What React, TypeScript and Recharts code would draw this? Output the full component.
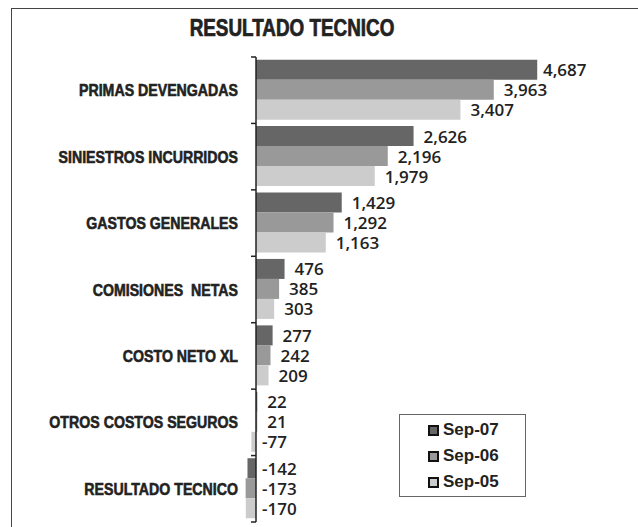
import { BarChart, Bar, XAxis, YAxis, ReferenceLine, Legend, LabelList } from 'recharts'

const categories = [
  'PRIMAS DEVENGADAS',
  'SINIESTROS INCURRIDOS',
  'GASTOS GENERALES',
  'COMISIONES  NETAS',
  'COSTO NETO XL',
  'OTROS COSTOS SEGUROS',
  'RESULTADO TECNICO',
]
const sep07 = [4687, 2626, 1429, 476, 277, 22, -142]
const sep06 = [3963, 2196, 1292, 385, 242, 21, -173]
const sep05 = [3407, 1979, 1163, 303, 209, -77, -170]

const series = [
  { key: 'sep07', name: 'Sep-07', color: '#666666' },
  { key: 'sep06', name: 'Sep-06', color: '#999999' },
  { key: 'sep05', name: 'Sep-05', color: '#cccccc' },
]

const data = categories.map((name, i) => ({
  name,
  sep07: sep07[i],
  sep06: sep06[i],
  sep05: sep05[i],
}))

// no narrow font installed: squeeze Liberation Sans Bold horizontally instead
const condensed = '"Liberation Sans", Arial, sans-serif'
const SQUEEZE = 0.82
const LABEL_MAX_X = 543

function CategoryTick(props: any) {
  const { x, y, payload } = props
  return (
    <text
      transform={`translate(${x},${y}) scale(${SQUEEZE},1)`}
      x={0}
      y={0}
      textAnchor="end"
      dominantBaseline="central"
      fontFamily={condensed}
      fontWeight="bold"
      fontSize={17.3}
      fill="#222"
      stroke="#222"
      strokeWidth={0.6}
      style={{ whiteSpace: 'pre' }}
    >
      {payload.value}
    </text>
  )
}

function ValueLabel(props: any) {
  const { x, y, width, height, value } = props
  const a = Number(x)
  const b = Number(x) + Number(width)
  let tx
  if (value >= 0) {
    tx = Math.min(Math.max(a, b) + 10, LABEL_MAX_X)
  } else {
    tx = Math.max(a, b) + 6
  }
  return (
    <text
      x={tx}
      y={Number(y) + Number(height) / 2}
      dominantBaseline="central"
      fontFamily='"Open Sans", sans-serif'
      fontWeight={600}
      fontSize={17}
      fill="#222"
    >
      {value.toLocaleString('en-US')}
    </text>
  )
}

// zero axis with tick marks on the category boundaries
function ZeroAxis(props: any) {
  const { x1, y1, y2 } = props
  const n = categories.length
  const step = (y2 - y1) / n
  const ticks = []
  for (let i = 0; i <= n; i++) {
    const ty = y1 + i * step
    ticks.push(<line key={i} x1={x1 - 5} x2={x1} y1={ty} y2={ty} stroke="#222" strokeWidth={1.5} />)
  }
  return (
    <g>
      <line x1={x1} x2={x1} y1={y1} y2={y2} stroke="#222" strokeWidth={1.5} />
      {ticks}
    </g>
  )
}

function LegendBox(props: any) {
  const payload = props.payload || []
  const items = series
    .map((s) => payload.find((p: any) => p.value === s.name))
    .filter(Boolean)
  return (
    <div
      style={{
        boxSizing: 'border-box',
        width: 127,
        height: 83,
        border: '1px solid #666',
        background: '#fff',
        padding: '2px 0 0 28px',
      }}
    >
      {items.map((p: any) => (
        <div key={p.value} style={{ display: 'flex', alignItems: 'center', height: 26 }}>
          <span
            style={{
              boxSizing: 'border-box',
              display: 'inline-block',
              width: 11,
              height: 11,
              border: '2px solid #111',
              background: p.color,
              marginRight: 4,
            }}
          />
          <span
            style={{
              fontFamily: '"Liberation Sans", Arial, sans-serif',
              fontWeight: 'bold',
              fontSize: 17,
              color: '#222',
            }}
          >
            {p.value}
          </span>
        </div>
      ))}
    </div>
  )
}

export default function App() {
  return (
    <div style={{ position: 'absolute', left: 0, top: 0, width: 638, height: 527, overflow: 'hidden', background: '#fff' }}>
      <div
        style={{
          position: 'absolute',
          left: 11,
          top: 8,
          width: 700,
          height: 600,
          borderTop: '1px solid #444',
          borderLeft: '1px solid #444',
        }}
      />
      <div
        style={{
          position: 'absolute',
          left: 142,
          top: 17,
          width: 300,
          textAlign: 'center',
          fontFamily: condensed,
          fontWeight: 'bold',
          fontSize: 23,
          lineHeight: '23px',
          color: '#222',
          WebkitTextStroke: '0.7px #222',
          transform: `scaleX(${SQUEEZE})`,
          transformOrigin: '150px 0',
        }}
      >
        RESULTADO TECNICO
      </div>
      <div style={{ position: 'absolute', left: 0, top: 0 }}>
        <BarChart
          width={638}
          height={527}
          data={data}
          layout="vertical"
          margin={{ top: 57, right: 82, bottom: 5, left: 0 }}
          barCategoryGap="4%"
          barGap={0}
        >
          <XAxis type="number" hide domain={[-250, 5000]} />
          <YAxis
            type="category"
            dataKey="name"
            width={241}
            axisLine={false}
            tickLine={false}
            tickSize={0}
            tickMargin={3}
            interval={0}
            tick={<CategoryTick />}
          />
          {series.map((s) => (
            <Bar key={s.key} dataKey={s.key} name={s.name} fill={s.color} isAnimationActive={false}>
              <LabelList dataKey={s.key} content={<ValueLabel />} />
            </Bar>
          ))}
          <ReferenceLine x={0} shape={<ZeroAxis />} />
          <Legend
            layout="vertical"
            align="center"
            verticalAlign="middle"
            content={<LegendBox />}
            wrapperStyle={{ left: 399, top: 414, width: 127, height: 83 }}
          />
        </BarChart>
      </div>
    </div>
  )
}
